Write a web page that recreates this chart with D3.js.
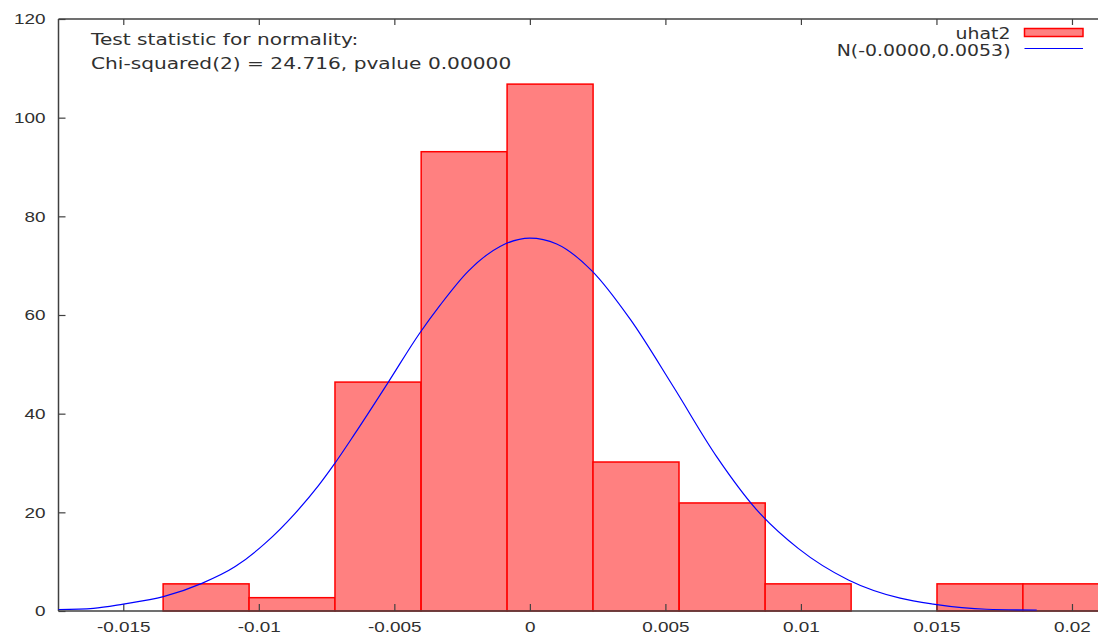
<!DOCTYPE html>
<html>
<head>
<meta charset="utf-8">
<script src="https://cdn.jsdelivr.net/npm/d3@7"></script>
<style>
  body { margin: 0; background: #fff; }
  svg { display: block; font-family: "DejaVu Sans", sans-serif; }
</style>
</head>
<body>
<svg id="chart" width="1098" height="636"></svg>
<script>
// histogram bins (left edge of each bin) and their density heights
const binStarts = [-0.01353, -0.01036, -0.00719, -0.00401, -0.00084, 0.00233, 0.00551, 0.00868, 0.01185, 0.01502, 0.01819];
const binWidth = 0.003172;
const densities = [5.5, 2.7, 46.4, 93.1, 106.8, 30.2, 21.9, 5.5, 0, 5.5, 5.5];

// normal curve, points
const curveX = [-0.01739, -0.0161, -0.0150, -0.01352, -0.0121, -0.01087, -0.00977, -0.00866, -0.0078, -0.00725, -0.00645, -0.00522, -0.00408, -0.00331, -0.00227, -0.0011, 0.0, 0.00099, 0.00228, 0.00372, 0.00529, 0.00689, 0.00837, 0.0099, 0.01175, 0.01366, 0.01488, 0.01685, 0.0187];
const curveY = [0.3, 0.55, 1.4, 2.9, 5.6, 9.0, 13.7, 19.8, 25.4, 29.5, 36.0, 46.4, 56.2, 62.0, 68.9, 73.9, 75.6, 74.4, 69.0, 59.0, 45.5, 31.3, 20.5, 12.7, 6.3, 2.6, 1.4, 0.35, 0.2];

// ticks
const xTicks = [-0.015, -0.01, -0.005, 0, 0.005, 0.01, 0.015, 0.02];
const xTickLabels = ['-0.015', '-0.01', '-0.005', '0', '0.005', '0.01', '0.015', '0.02'];
const yTicks = [0, 20, 40, 60, 80, 100, 120];
const yTickLabels = ['0', '20', '40', '60', '80', '100', '120'];

// legend + annotation text
const seriesNames = ['uhat2', 'N(-0.0000,0.0053)'];
const noteLines = ['Test statistic for normality:', 'Chi-squared(2) = 24.716, pvalue 0.00000'];

let svg = d3.select('#chart');
let stretch = 1.26;   // the reference text is wide, stretch glyphs horizontally
let axisColor = '#404040';
let textColor = '#303030';

let xScale = d3.scaleLinear().domain([-0.01739, 0.02096]).range([58.5, 1098]);
let yScale = d3.scaleLinear().domain([0, 120]).range([611, 19]);

// bars
let bars = binStarts.map(function(d, i){ return {x0: d, x1: d + binWidth, v: densities[i]}; })
    .filter(function(d){ return d.v > 0; });

svg.append('g').selectAll('rect')
    .data(bars)
    .enter()
        .append('rect')
        .attr('x', function(d){ return xScale(d.x0); })
        .attr('y', function(d){ return yScale(d.v); })
        .attr('width', function(d){ return xScale(d.x1) - xScale(d.x0); })
        .attr('height', function(d){ return yScale(0) - yScale(d.v); })
        .attr('fill', '#ff8080')
        .attr('stroke', '#ff0000')
        .attr('stroke-width', 1.5);

// axes
let xAxis = svg.append('g')
    .attr('transform', 'translate(0,' + yScale(0) + ')')
    .call(d3.axisBottom(xScale)
        .tickValues(xTicks)
        .tickFormat(function(d, i){ return xTickLabels[i]; })
        .tickSizeInner(-7)
        .tickSizeOuter(0)
        .tickPadding(10.2));

let yAxis = svg.append('g')
    .attr('transform', 'translate(' + xScale.range()[0] + ',0)')
    .call(d3.axisLeft(yScale)
        .tickValues(yTicks)
        .tickFormat(function(d, i){ return yTickLabels[i]; })
        .tickSizeInner(-7)
        .tickSizeOuter(0)
        .tickPadding(10.3));

// mirrored ticks along the top border
let topAxis = svg.append('g')
    .attr('transform', 'translate(0,' + yScale(120) + ')')
    .call(d3.axisTop(xScale)
        .tickValues(xTicks)
        .tickFormat('')
        .tickSizeInner(-6)
        .tickSizeOuter(0));

[xAxis, yAxis, topAxis].forEach(function(ax){
    ax.select('.domain').attr('stroke', axisColor).attr('stroke-width', 1.5);
    ax.selectAll('.tick line').attr('stroke', axisColor).attr('stroke-width', 1.2);
    ax.selectAll('.tick text')
        .attr('fill', textColor)
        .style('font-size', '15px')
        .attr('transform', 'scale(' + stretch + ',1)');
});
xAxis.select('.domain').attr('d', 'M' + xScale.range()[0] + ',0H' + xScale.range()[1]);
yAxis.select('.domain').attr('d', 'M0,' + yScale.range()[0] + 'V' + yScale.range()[1]);
topAxis.select('.domain').attr('d', 'M' + xScale.range()[0] + ',0H' + xScale.range()[1]);

// normal curve
let line = d3.line()
    .x(function(d){ return xScale(d[0]); })
    .y(function(d){ return yScale(d[1]); })
    .curve(d3.curveMonotoneX);

svg.append('path')
    .datum(curveX.map(function(d, i){ return [d, curveY[i]]; }))
    .attr('d', line)
    .attr('fill', 'none')
    .attr('stroke', '#0000ff')
    .attr('stroke-width', 1.2);

// stretched text helper
function label(x, y, txt, size, anchor){
    svg.append('text')
        .attr('transform', 'translate(' + x + ',' + y + ') scale(' + stretch + ',1)')
        .attr('dy', '0.35em')
        .style('font-size', size + 'px')
        .style('text-anchor', anchor)
        .attr('fill', textColor)
        .text(txt);
}

// annotation
label(91, 39.5, noteLines[0], 16, 'start');
label(91, 63.5, noteLines[1], 16, 'start');

// legend
label(1010.5, 33.3, seriesNames[0], 15, 'end');
label(1010.5, 50.5, seriesNames[1], 15, 'end');

svg.append('rect')
    .attr('x', 1024.5).attr('y', 28.5)
    .attr('width', 58.5).attr('height', 8)
    .attr('fill', '#ff8080')
    .attr('stroke', '#ff0000')
    .attr('stroke-width', 1.5);
svg.append('line')
    .attr('x1', 1024.5).attr('x2', 1083)
    .attr('y1', 48.5).attr('y2', 48.5)
    .attr('stroke', '#0000ff')
    .attr('stroke-width', 1.2);
</script>
</body>
</html>
